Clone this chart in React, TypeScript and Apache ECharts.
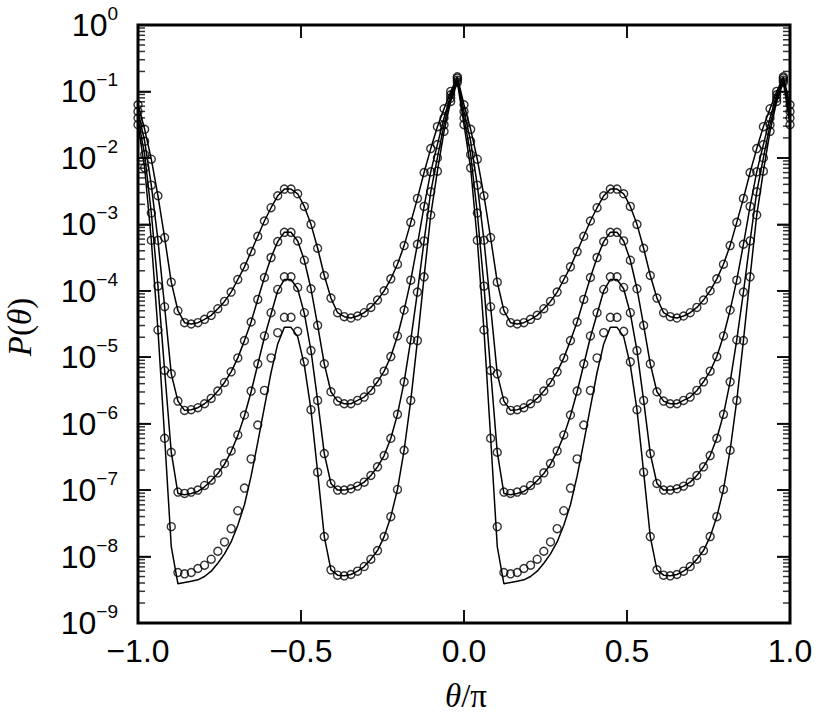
import React, { useEffect, useRef } from "react";
import * as echarts from "echarts";

// Tick positions
const xTickValues = [-1, -0.5, 0, 0.5, 1];
const yMinExp = -9;
const yMaxExp = 0;

// Sample grid: theta/pi = -1 + k/49, k = 0..98 ; the pattern repeats with period 1 (49 steps)
const stepsPerPeriod = 49;
const gridPointCount = 99;

// log10 P(theta), one period (k = 0..48)
const curve1Marks = [-1.2, -1.57, -2.02, -2.57, -3.2, -3.87, -4.3, -4.48, -4.5, -4.48, -4.43, -4.37, -4.27, -4.16, -4.02, -3.83, -3.64, -3.41, -3.18, -2.95, -2.75, -2.57, -2.47, -2.47, -2.54, -2.73, -3.0, -3.36, -3.77, -4.11, -4.33, -4.39, -4.41, -4.38, -4.33, -4.25, -4.14, -4.0, -3.82, -3.6, -3.32, -2.97, -2.61, -2.22, -1.86, -1.53, -1.26, -1.0, -0.78];
const curve2Marks = [-1.3, -1.75, -2.41, -3.24, -4.24, -5.25, -5.66, -5.8, -5.79, -5.76, -5.7, -5.62, -5.51, -5.38, -5.22, -5.01, -4.75, -4.47, -4.13, -3.8, -3.5, -3.26, -3.12, -3.12, -3.25, -3.54, -3.97, -4.52, -5.1, -5.52, -5.66, -5.7, -5.7, -5.65, -5.6, -5.5, -5.37, -5.21, -4.99, -4.68, -4.29, -3.84, -3.3, -2.73, -2.21, -1.8, -1.4, -1.05, -0.8];
const curve3Marks = [-1.4, -1.95, -2.83, -3.93, -5.2, -6.43, -7.03, -7.05, -7.03, -7.0, -6.93, -6.85, -6.74, -6.6, -6.41, -6.17, -5.87, -5.51, -5.1, -4.68, -4.33, -3.98, -3.79, -3.79, -3.95, -4.33, -4.9, -5.65, -6.45, -6.9, -7.0, -7.0, -6.98, -6.94, -6.88, -6.78, -6.65, -6.48, -6.22, -5.86, -5.37, -4.74, -4.02, -3.25, -2.51, -2.0, -1.5, -1.1, -0.83];
const curve4Marks = [-1.5, -2.15, -3.24, -4.59, -6.22, -7.55, -8.24, -8.26, -8.24, -8.18, -8.13, -8.04, -7.92, -7.78, -7.58, -7.31, -6.97, -6.53, -6.02, -5.5, -5.01, -4.63, -4.4, -4.4, -4.61, -5.07, -5.79, -6.73, -7.7, -8.2, -8.28, -8.29, -8.27, -8.22, -8.15, -8.04, -7.91, -7.7, -7.4, -6.99, -6.4, -5.65, -4.75, -3.79, -2.86, -2.2, -1.6, -1.15, -0.86];

// solid (theory) lines, log10 P(theta)
const curve1Line = curve1Marks;
const curve2Line = curve2Marks;
const curve3Line = [-1.4, -1.95, -2.83, -3.93, -5.2, -6.43, -7.05, -7.07, -7.05, -7.02, -6.95, -6.86, -6.75, -6.61, -6.42, -6.18, -5.88, -5.52, -5.11, -4.7, -4.35, -4.0, -3.83, -3.83, -3.97, -4.34, -4.9, -5.65, -6.45, -6.9, -7.0, -7.0, -6.98, -6.94, -6.88, -6.78, -6.65, -6.48, -6.22, -5.86, -5.37, -4.74, -4.02, -3.25, -2.51, -2.0, -1.5, -1.1, -0.83];
const curve4Line = [-1.5, -2.15, -3.24, -4.59, -6.2, -7.85, -8.41, -8.39, -8.37, -8.35, -8.3, -8.22, -8.1, -7.96, -7.78, -7.53, -7.22, -6.79, -6.28, -5.75, -5.23, -4.8, -4.55, -4.55, -4.69, -5.12, -5.79, -6.73, -7.7, -8.2, -8.28, -8.29, -8.27, -8.22, -8.15, -8.04, -7.91, -7.7, -7.4, -6.99, -6.4, -5.65, -4.75, -3.79, -2.86, -2.2, -1.6, -1.15, -0.86];

const markSets = [curve1Marks, curve2Marks, curve3Marks, curve4Marks];
const lineSets = [curve1Line, curve2Line, curve3Line, curve4Line];

function expand(vals: number[]): number[][] {
  const pts: number[][] = [];
  for (let k = 0; k < gridPointCount; k++) {
    pts.push([-1 + k / stepsPerPeriod, Math.pow(10, vals[k % stepsPerPeriod])]);
  }
  return pts;
}

const majorTickValues: number[] = [];
for (let e = yMinExp + 1; e < yMaxExp; e++) majorTickValues.push(Math.pow(10, e));
const minorTickValues: number[] = [];
for (let e = yMinExp; e < yMaxExp; e++) {
  for (let m = 2; m <= 9; m++) minorTickValues.push(m * Math.pow(10, e));
}
const innerXTicks = xTickValues.slice(1, -1);

const fmtX = (v: number) => (v < 0 ? "\u2212" : "") + Math.abs(v).toFixed(1);
const fmtY = (v: number) => {
  const e = Math.round(Math.log10(v));
  return "{b|10}{s|" + (e < 0 ? "\u2212" + -e : String(e)) + "}";
};

// tick marks drawn as small rectangles anchored on the frame
function tickSeries(name: string, data: number[][], size: number[], offset: number[]) {
  return {
    type: "scatter",
    name,
    data,
    symbol: "rect",
    symbolSize: size,
    symbolOffset: offset,
    itemStyle: { color: "#000", borderWidth: 0 },
    clip: false,
    silent: true,
    z: 5,
  };
}

export default function App() {
  const ref = useRef<HTMLDivElement>(null);
  useEffect(() => {
    if (!ref.current) return;
    const chart = echarts.init(ref.current, null, { renderer: "svg" });
    const mkTick = () => ({ show: true, inside: true, length: 13, lineStyle: { color: "#000", width: 1.6 } });
    const mkNoLine = () => ({ show: false, onZero: false });
    const xMin = xTickValues[0];
    const xMax = xTickValues[xTickValues.length - 1];
    const yMin = Math.pow(10, yMinExp);
    const yMax = Math.pow(10, yMaxExp);
    const series: any[] = [];
    lineSets.forEach((vals, i) => {
      series.push({
        type: "line",
        name: "line" + (i + 1),
        data: expand(vals),
        showSymbol: false,
        symbol: "none",
        lineStyle: { color: "#000", width: 1.5 },
        z: 2,
        silent: true,
      });
    });
    markSets.forEach((vals, i) => {
      series.push({
        type: "scatter",
        name: "marks" + (i + 1),
        data: expand(vals),
        symbol: "circle",
        symbolSize: 8,
        itemStyle: { color: "rgba(0,0,0,0)", borderColor: "#000", borderWidth: 1.4 },
        z: 3,
        silent: true,
      });
    });
    // y major ticks, left and right
    series.push(tickSeries("yMajorL", majorTickValues.map((v) => [xMin, v]), [13, 1.6], [6.5, 0]));
    series.push(tickSeries("yMajorR", majorTickValues.map((v) => [xMax, v]), [13, 1.6], [-6.5, 0]));
    // y minor ticks, left and right
    series.push(tickSeries("yMinorL", minorTickValues.map((v) => [xMin, v]), [7, 1.5], [3.5, 0]));
    series.push(tickSeries("yMinorR", minorTickValues.map((v) => [xMax, v]), [7, 1.5], [-3.5, 0]));
    // x ticks, bottom and top
    series.push(tickSeries("xTickB", innerXTicks.map((x) => [x, yMin]), [1.6, 13], [0, -6.5]));
    series.push(tickSeries("xTickT", innerXTicks.map((x) => [x, yMax]), [1.6, 13], [0, 6.5]));

    const serifRich = {
      i: { fontFamily: "Liberation Serif", fontStyle: "italic", fontSize: 33, fill: "#000" },
      n: { fontFamily: "Liberation Serif", fontSize: 33, fill: "#000" },
    };
    chart.setOption({
      animation: false,
      backgroundColor: "#fff",
      grid: { left: 138, right: 34, top: 25, bottom: 93, show: true, borderColor: "#000", borderWidth: 3 },
      xAxis: [
        {
          type: "value", min: xMin, max: xMax, interval: 0.5, position: "bottom",
          axisLine: mkNoLine(), splitLine: { show: false }, axisTick: mkTick(),
          axisLabel: { margin: 12, color: "#000", fontFamily: "Liberation Sans", fontSize: 32, formatter: fmtX },
        },
        {
          type: "value", min: xMin, max: xMax, interval: 0.5, position: "top",
          axisLine: mkNoLine(), splitLine: { show: false }, axisTick: mkTick(), axisLabel: { show: false },
        },
      ],
      yAxis: [
        {
          type: "log", min: yMin, max: yMax, interval: 1, position: "left",
          axisLine: mkNoLine(), splitLine: { show: false }, axisTick: mkTick(),
          axisLabel: {
            margin: 20, color: "#000", formatter: fmtY,
            rich: {
              b: { fontFamily: "Liberation Sans", fontSize: 32, lineHeight: 42, color: "#000" },
              s: { fontFamily: "Liberation Sans", fontSize: 19, verticalAlign: "top", lineHeight: 19, color: "#000" },
            },
          },
        },
        {
          type: "log", min: yMin, max: yMax, interval: 1, position: "right",
          axisLine: mkNoLine(), splitLine: { show: false }, axisTick: mkTick(), axisLabel: { show: false },
        },
      ],
      graphic: [
        { type: "text", x: 466, y: 696, style: { text: "{i|\u03b8}{n|/\u03c0}", align: "center", verticalAlign: "middle", rich: serifRich } },
        { type: "text", x: 20, y: 327, rotation: Math.PI / 2, style: { text: "{i|P}{n|(}{i|\u03b8}{n|)}", align: "center", verticalAlign: "middle", rich: serifRich } },
      ],
      series,
    });
    return () => chart.dispose();
  }, []);
  return <div ref={ref} style={{ position: "fixed", left: 0, top: 0, width: 824, height: 716, background: "#fff" }} />;
}
